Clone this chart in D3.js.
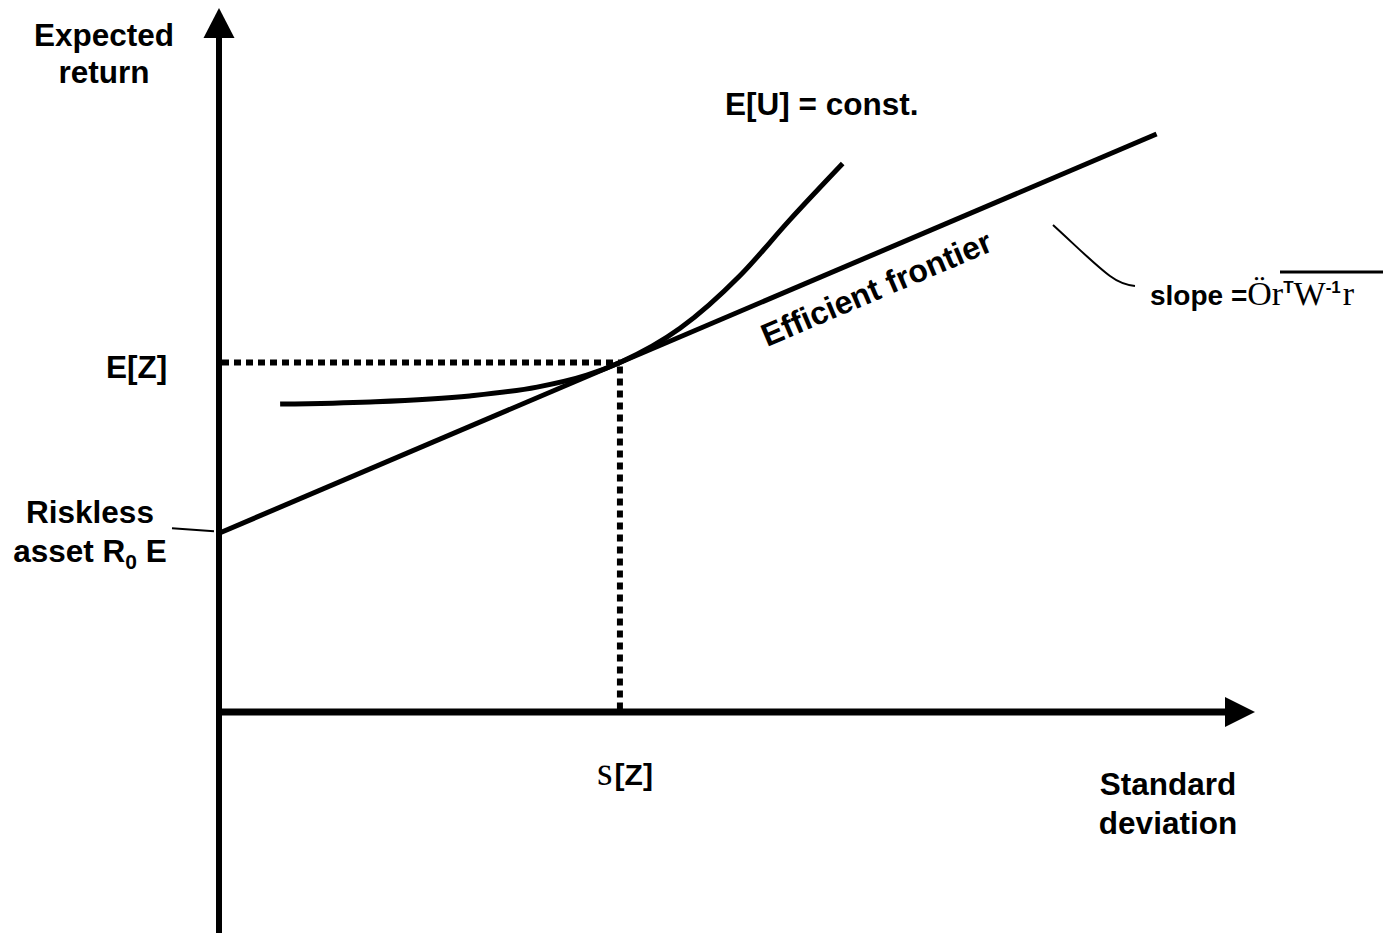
<!DOCTYPE html>
<html>
<head>
<meta charset="utf-8">
<script src="https://cdn.jsdelivr.net/npm/d3@7"></script>
<style>
  body { margin: 0; background: #fff; }
  text { font-family: "Liberation Sans", Arial, sans-serif; font-weight: bold; fill: #000; }
  .serif { font-family: "Liberation Serif", "Times New Roman", serif; font-weight: normal; }
</style>
</head>
<body>
<div id="chart"></div>
<script>
// Chart values (standard deviation on x, expected return on y, arbitrary units 0-100)
const frontier = [
    {sd: 0, ret: 25.4},
    {sd: 90.5, ret: 82.1}
];
const utilityCurve = [
    {sd: 5.9, ret: 43.75},
    {sd: 14.6, ret: 44.05},
    {sd: 24.2, ret: 44.9},
    {sd: 30.7, ret: 46.15},
    {sd: 35.5, ret: 47.85},
    {sd: 38.7, ret: 49.65},
    {sd: 44.5, ret: 54.5},
    {sd: 50.3, ret: 62.0},
    {sd: 55.1, ret: 69.9},
    {sd: 60.2, ret: 77.9}
];
const tangentPoint = {sd: 38.7, ret: 49.65};
const axisEnds = {sd: 100, ret: 100, retBottom: -32};

const width = 1383, height = 933;

const svg = d3.select("#chart").append("svg")
    .attr("width", width)
    .attr("height", height);

// Scales
const x = d3.scaleLinear().domain([0, 100]).range([219, 1255]);
const y = d3.scaleLinear().domain([0, 100]).range([712, 8]);

// Axes with arrow heads
const x0 = x(0), y0 = y(0);
svg.append("line")
    .attr("x1", x0).attr("y1", y(axisEnds.retBottom))
    .attr("x2", x0).attr("y2", y(axisEnds.ret) + 28)
    .attr("stroke", "black").attr("stroke-width", 6);
svg.append("path")
    .attr("d", `M${x0},${y(axisEnds.ret)} L${x0 + 15.5},${y(axisEnds.ret) + 30} L${x0 - 15.5},${y(axisEnds.ret) + 30} Z`)
    .attr("fill", "black");

svg.append("line")
    .attr("x1", x0 - 3).attr("y1", y0)
    .attr("x2", x(axisEnds.sd) - 28).attr("y2", y0)
    .attr("stroke", "black").attr("stroke-width", 7);
svg.append("path")
    .attr("d", `M${x(axisEnds.sd)},${y0} L${x(axisEnds.sd) - 30},${y0 - 15} L${x(axisEnds.sd) - 30},${y0 + 15} Z`)
    .attr("fill", "black");

// Dotted guides to tangent point
svg.append("line")
    .attr("x1", x0 + 3).attr("y1", y(tangentPoint.ret))
    .attr("x2", x(tangentPoint.sd)).attr("y2", y(tangentPoint.ret))
    .attr("stroke", "black").attr("stroke-width", 6)
    .attr("stroke-dasharray", "7,5");
svg.append("line")
    .attr("x1", x(tangentPoint.sd)).attr("y1", y(tangentPoint.ret) + 4)
    .attr("x2", x(tangentPoint.sd)).attr("y2", y0)
    .attr("stroke", "black").attr("stroke-width", 6)
    .attr("stroke-dasharray", "7,5");

// Efficient frontier
const line = d3.line()
    .x(d => x(d.sd))
    .y(d => y(d.ret));

svg.append("path")
    .datum(frontier)
    .attr("fill", "none")
    .attr("stroke", "black")
    .attr("stroke-width", 5)
    .attr("d", line);

// Indifference curve
svg.append("path")
    .datum(utilityCurve)
    .attr("fill", "none")
    .attr("stroke", "black")
    .attr("stroke-width", 5)
    .attr("d", line.curve(d3.curveMonotoneX));

// Labels
const fs = 31.5;
function label(txt, px, py, anchor) {
    return svg.append("text")
        .attr("x", px).attr("y", py)
        .attr("text-anchor", anchor || "start")
        .style("font-size", fs + "px")
        .text(txt);
}

label("Expected", 104, 46, "middle");
label("return", 104, 83, "middle");
label("E[U] = const.", 725, 115);
label("E[Z]", 106, 378);
label("Riskless", 90, 523, "middle");
label("Standard", 1168, 795, "middle");
label("deviation", 1168, 834, "middle");

// Riskless asset R0 E with subscript
const asset = svg.append("text")
    .attr("x", 90).attr("y", 562)
    .attr("text-anchor", "middle")
    .style("font-size", fs + "px");
asset.append("tspan").text("asset R");
asset.append("tspan").attr("dy", 7).style("font-size", "21px").text("0");
asset.append("tspan").attr("dy", -7).text(" E");

// Leader for riskless asset
svg.append("line")
    .attr("x1", 172).attr("y1", y(frontier[0].ret) - 5)
    .attr("x2", x0 - 5).attr("y2", y(frontier[0].ret) - 2)
    .attr("stroke", "black").attr("stroke-width", 2);

// s[Z] label under tangent point
const sz = svg.append("text")
    .attr("x", 597).attr("y", 785)
    .style("font-size", "30px");
sz.append("tspan").attr("class", "serif").style("font-size", "40px").text("s");
sz.append("tspan").attr("dx", 2).text("[Z]");

// Efficient frontier label, rotated along the line
const angle = Math.atan2(y(frontier[1].ret) - y(frontier[0].ret), x(frontier[1].sd) - x(frontier[0].sd)) * 180 / Math.PI;
svg.append("text")
    .attr("transform", `translate(767,347) rotate(${angle})`)
    .style("font-size", "32px")
    .text("Efficient frontier");

// Slope label
const slope = svg.append("text")
    .attr("x", 1150).attr("y", 305)
    .style("font-size", "28px");
slope.append("tspan").text("slope =");
slope.append("tspan").attr("class", "serif").style("font-size", "34px").text("Ör");
slope.append("tspan").attr("dy", -12).style("font-size", "17px").text("T");
slope.append("tspan").attr("dy", 12).attr("class", "serif").style("font-size", "34px").text("W");
slope.append("tspan").attr("dy", -12).style("font-size", "17px").text("-1");
slope.append("tspan").attr("dy", 12).attr("dx", 2).attr("class", "serif").style("font-size", "34px").text("r");

// Overbar of the square root
svg.append("line")
    .attr("x1", 1280).attr("y1", 272)
    .attr("x2", 1383).attr("y2", 272)
    .attr("stroke", "black").attr("stroke-width", 3);

// Leader for slope label
svg.append("path")
    .attr("d", "M1053,225 C1075,245 1095,265 1110,276 C1118,282 1126,285 1135,286")
    .attr("fill", "none")
    .attr("stroke", "black")
    .attr("stroke-width", 2);
</script>
</body>
</html>
